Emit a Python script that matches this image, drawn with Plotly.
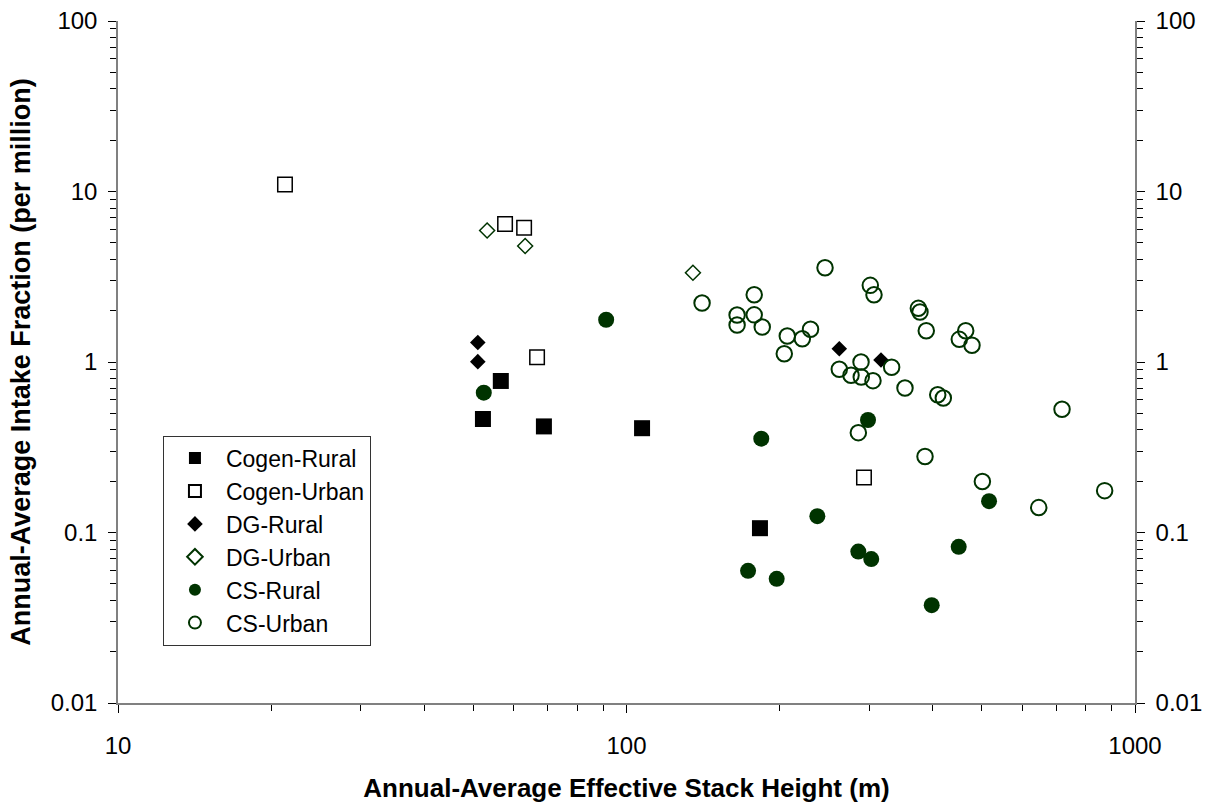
import plotly.graph_objects as go

# Annual-average effective stack height (m) and intake fraction (per million)
cogen_rural_h = [52.2, 56.6, 68.8, 107.3, 183.0]
cogen_rural_if = [0.463, 0.774, 0.419, 0.409, 0.106]

cogen_urban_h = [21.3, 57.7, 62.9, 66.7, 293.1]
cogen_urban_if = [11.0, 6.44, 6.12, 1.065, 0.210]

dg_rural_h = [51.0, 51.0, 262.1, 316.6]
dg_rural_if = [1.30, 1.005, 1.197, 1.028]

dg_urban_h = [53.2, 63.2, 135.1]
dg_urban_if = [5.91, 4.79, 3.34]

cs_rural_h = [52.4, 91.2, 184.1, 298.5, 237.3, 173.4, 197.4, 285.7, 302.9,
              450.1, 398.3, 516.4]
cs_rural_if = [0.661, 1.77, 0.355, 0.457, 0.1247, 0.0596, 0.0535, 0.0773,
               0.0698, 0.0824, 0.0375, 0.1527]

cs_urban_h = [140.8, 165.0, 165.0, 178.3, 178.3, 184.9, 204.3, 207.1, 221.7,
              230.1, 245.7, 301.6, 306.7, 374.9, 377.7, 388.6, 451.3, 464.6,
              478.0, 262.1, 276.4, 289.2, 289.5, 305.3, 332.2, 352.9, 409.3,
              419.8, 285.7, 386.4, 501.0, 718.6, 646.7, 871.6]
cs_urban_if = [2.22, 1.886, 1.647, 2.48, 1.89, 1.604, 1.118, 1.42, 1.369,
               1.557, 3.57, 2.815, 2.48, 2.064, 1.963, 1.525, 1.358, 1.525,
               1.253, 0.906, 0.836, 1.0, 0.817, 0.777, 0.931, 0.704, 0.643,
               0.615, 0.385, 0.279, 0.199, 0.528, 0.140, 0.176]

x_ticks = [10, 100, 1000]
y_ticks = [0.01, 0.1, 1, 10, 100]
y_tick_text = ["0.01", "0.1", "1", "10", "100"]

GREEN = "#003300"
FONT = "Liberation Sans, Arial, sans-serif"

x_minor = [m * d for d in (10, 100) for m in range(2, 10)]
y_minor = [m * d for d in (0.01, 0.1, 1, 10) for m in range(2, 10)]

series = [
    ("Cogen-Rural", cogen_rural_h, cogen_rural_if,
     dict(symbol="square", size=16, color="black")),
    ("Cogen-Urban", cogen_urban_h, cogen_urban_if,
     dict(symbol="square-open", size=14.5, color="black",
          line=dict(color="black", width=1.5))),
    ("DG-Rural", dg_rural_h, dg_rural_if,
     dict(symbol="diamond", size=12, color="black")),
    ("DG-Urban", dg_urban_h, dg_urban_if,
     dict(symbol="diamond-open", size=11.5, color=GREEN,
          line=dict(color=GREEN, width=1.5))),
    ("CS-Rural", cs_rural_h, cs_rural_if,
     dict(symbol="circle", size=16, color=GREEN)),
    ("CS-Urban", cs_urban_h, cs_urban_if,
     dict(symbol="circle-open", size=15.5, color=GREEN,
          line=dict(color=GREEN, width=2))),
]

fig = go.Figure()
for name, xs, ys, marker in series:
    fig.add_trace(go.Scatter(
        x=xs, y=ys, mode="markers", name=name, marker=marker,
        legendgroup=name,
    ))

# empty trace so the right-hand axis is drawn
fig.add_trace(go.Scatter(x=[None], y=[None], yaxis="y2", showlegend=False,
                         hoverinfo="skip"))

axis_common = dict(
    type="log",
    automargin=False,
    showgrid=False,
    zeroline=False,
    showline=True,
    linecolor="#808080",
    linewidth=1.5,
    ticks="outside",
    ticklen=8,
    tickwidth=1.2,
    tickcolor="black",
    tickfont=dict(family=FONT, size=24, color="black"),
)

fig.update_layout(
    width=1213,
    height=803,
    margin=dict(l=118, r=78, t=21, b=100),
    paper_bgcolor="white",
    plot_bgcolor="white",
    showlegend=True,
    legend=dict(
        x=0.0442, y=0.392, xanchor="left", yanchor="top",
        bgcolor="white", bordercolor="#333333", borderwidth=1,
        font=dict(family=FONT, size=23, color="black"),
        itemsizing="constant", tracegroupgap=0, itemwidth=52,
    ),
    xaxis=dict(
        **axis_common,
        range=[1, 3],
        tickmode="array", tickvals=x_ticks,
        ticktext=[str(v) for v in x_ticks],
        minor=dict(tickmode="array", tickvals=x_minor, ticks="outside",
                   ticklen=6, tickcolor="black", showgrid=False),
        title=dict(text="<b>Annual-Average Effective Stack Height (m)</b>",
                   font=dict(family=FONT, size=26, color="black"),
                   standoff=24),
        ticklabelstandoff=12,
    ),
    yaxis=dict(
        **axis_common,
        range=[-2, 2],
        tickmode="array", tickvals=y_ticks, ticktext=y_tick_text,
        minor=dict(tickmode="array", tickvals=y_minor, ticks="outside",
                   ticklen=6, tickcolor="black", showgrid=False),
        title=dict(text="<b>Annual-Average Intake Fraction (per million)</b>",
                   font=dict(family=FONT, size=27, color="black"),
                   standoff=12),
        ticklabelstandoff=6,
    ),
    yaxis2=dict(
        **axis_common,
        range=[-2, 2],
        overlaying="y", side="right", anchor="x",
        tickmode="array", tickvals=y_ticks, ticktext=y_tick_text,
        minor=dict(tickmode="array", tickvals=y_minor, ticks="outside",
                   ticklen=6, tickcolor="black", showgrid=False),
        ticklabelstandoff=6,
    ),
)

fig.write_html("out.html")
